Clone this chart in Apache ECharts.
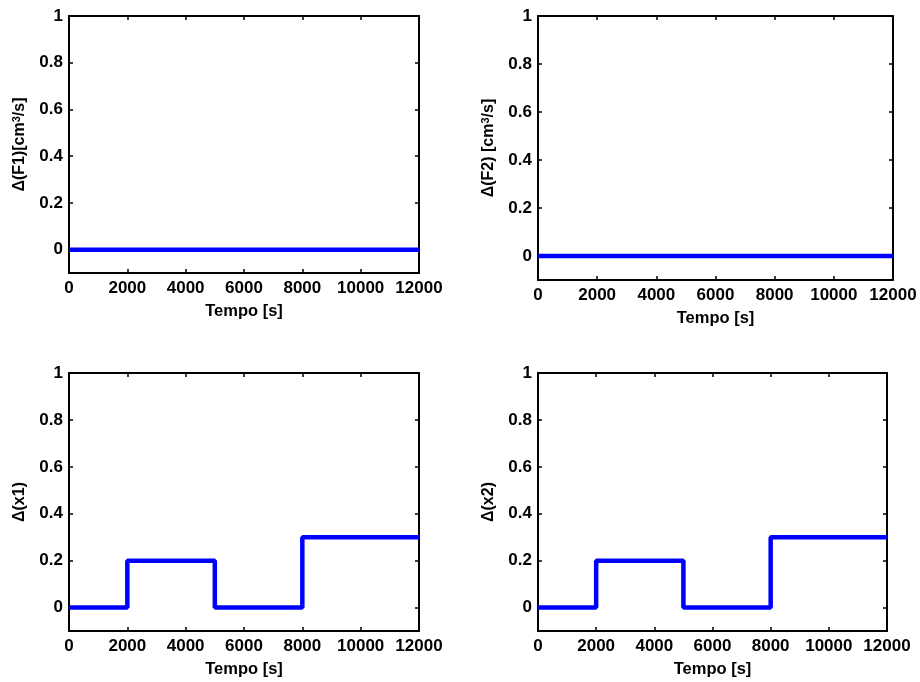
<!DOCTYPE html>
<html>
<head>
<meta charset="utf-8">
<script src="https://cdn.jsdelivr.net/npm/echarts@6/dist/echarts.min.js"></script>
<style>
  html, body { margin: 0; padding: 0; background: #fff; }
  #chart { width: 920px; height: 682px; }
</style>
</head>
<body>
<div id="chart"></div>
<script>
// dati
const timeFlat = [0, 12000];
const valuesF1 = [0, 0];
const valuesF2 = [0, 0];
const stepTimes = [0, 2000, 5000, 8000, 12000];
const valuesX1 = [0, 0.2, 0, 0.3, 0.3];
const valuesX2 = [0, 0.2, 0, 0.3, 0.3];
const yTicks = [0, 0.2, 0.4, 0.6, 0.8, 1];
const yNames = ['Δ(F1)[cm{s|3}/s]', 'Δ(F2) [cm{s|3}/s]', 'Δ(x1)', 'Δ(x2)'];
const xName = 'Tempo [s]';

const font = "'Liberation Sans', Arial, sans-serif";

// posizione dei quattro riquadri
const grids = [
  { left: 69, top: 16, width: 350, height: 257 },
  { left: 538, top: 16, width: 355, height: 264 },
  { left: 69, top: 373, width: 350, height: 258 },
  { left: 538, top: 373, width: 349, height: 258 }
];

const pairs = (xs, ys) => xs.map((x, i) => [x, ys[i]]);
const seriesData = [
  pairs(timeFlat, valuesF1),
  pairs(timeFlat, valuesF2),
  pairs(stepTimes, valuesX1),
  pairs(stepTimes, valuesX2)
];

const lineStyleAxis = { show: true, onZero: false, lineStyle: { color: '#000', width: 2 } };
const tickStyle = { show: true, inside: true, length: 4, lineStyle: { color: '#000', width: 1.5 } };

const xAxes = [];
const yAxes = [];
const series = [];

grids.forEach((g, i) => {
  // asse x in basso
  xAxes.push({
    gridIndex: i, type: 'value', position: 'bottom',
    min: 0, max: 12000, interval: 2000,
    name: xName, nameLocation: 'middle', nameGap: 30,
    nameTextStyle: { fontFamily: font, fontWeight: 'bold', fontSize: 16.5, color: '#000' },
    axisLine: lineStyleAxis, axisTick: tickStyle,
    axisLabel: {
      fontFamily: font, fontWeight: 'bold', fontSize: 17, color: '#000', margin: 7,
      formatter: v => String(v)
    },
    splitLine: { show: false }
  });
  // asse x in alto (solo tacche)
  xAxes.push({
    gridIndex: i, type: 'value', position: 'top',
    min: 0, max: 12000, interval: 2000,
    axisLine: lineStyleAxis, axisTick: tickStyle,
    axisLabel: { show: false }, splitLine: { show: false }
  });
  // asse y a sinistra
  yAxes.push({
    gridIndex: i, type: 'value', position: 'left',
    min: -0.1, max: 1,
    name: yNames[i], nameLocation: 'middle', nameRotate: 90, nameGap: 40,
    nameTextStyle: {
      fontFamily: font, fontWeight: 'bold', fontSize: 16, color: '#000', lineHeight: 18,
      rich: {
        s: { fontFamily: font, fontWeight: 'bold', fontSize: 11, color: '#000', lineHeight: 18, verticalAlign: 'top', padding: [0, 0, 8, 0] }
      }
    },
    axisLine: lineStyleAxis,
    axisTick: Object.assign({ customValues: yTicks }, tickStyle),
    axisLabel: {
      customValues: yTicks, fontFamily: font, fontWeight: 'bold', fontSize: 17, color: '#000', margin: 6,
      formatter: v => String(v)
    },
    splitLine: { show: false }
  });
  // asse y a destra (solo tacche)
  yAxes.push({
    gridIndex: i, type: 'value', position: 'right',
    min: -0.1, max: 1,
    axisLine: lineStyleAxis,
    axisTick: Object.assign({ customValues: yTicks }, tickStyle),
    axisLabel: { show: false, customValues: yTicks },
    splitLine: { show: false }
  });
  series.push({
    type: 'line',
    xAxisIndex: i * 2,
    yAxisIndex: i * 2,
    data: seriesData[i],
    step: 'end',
    showSymbol: false,
    symbol: 'none',
    lineStyle: { color: '#0000ff', width: 4.5 },
    animation: false
  });
});

const chart = echarts.init(document.getElementById('chart'));
chart.setOption({
  backgroundColor: '#fff',
  animation: false,
  grid: grids,
  xAxis: xAxes,
  yAxis: yAxes,
  series: series
});
</script>
</body>
</html>
